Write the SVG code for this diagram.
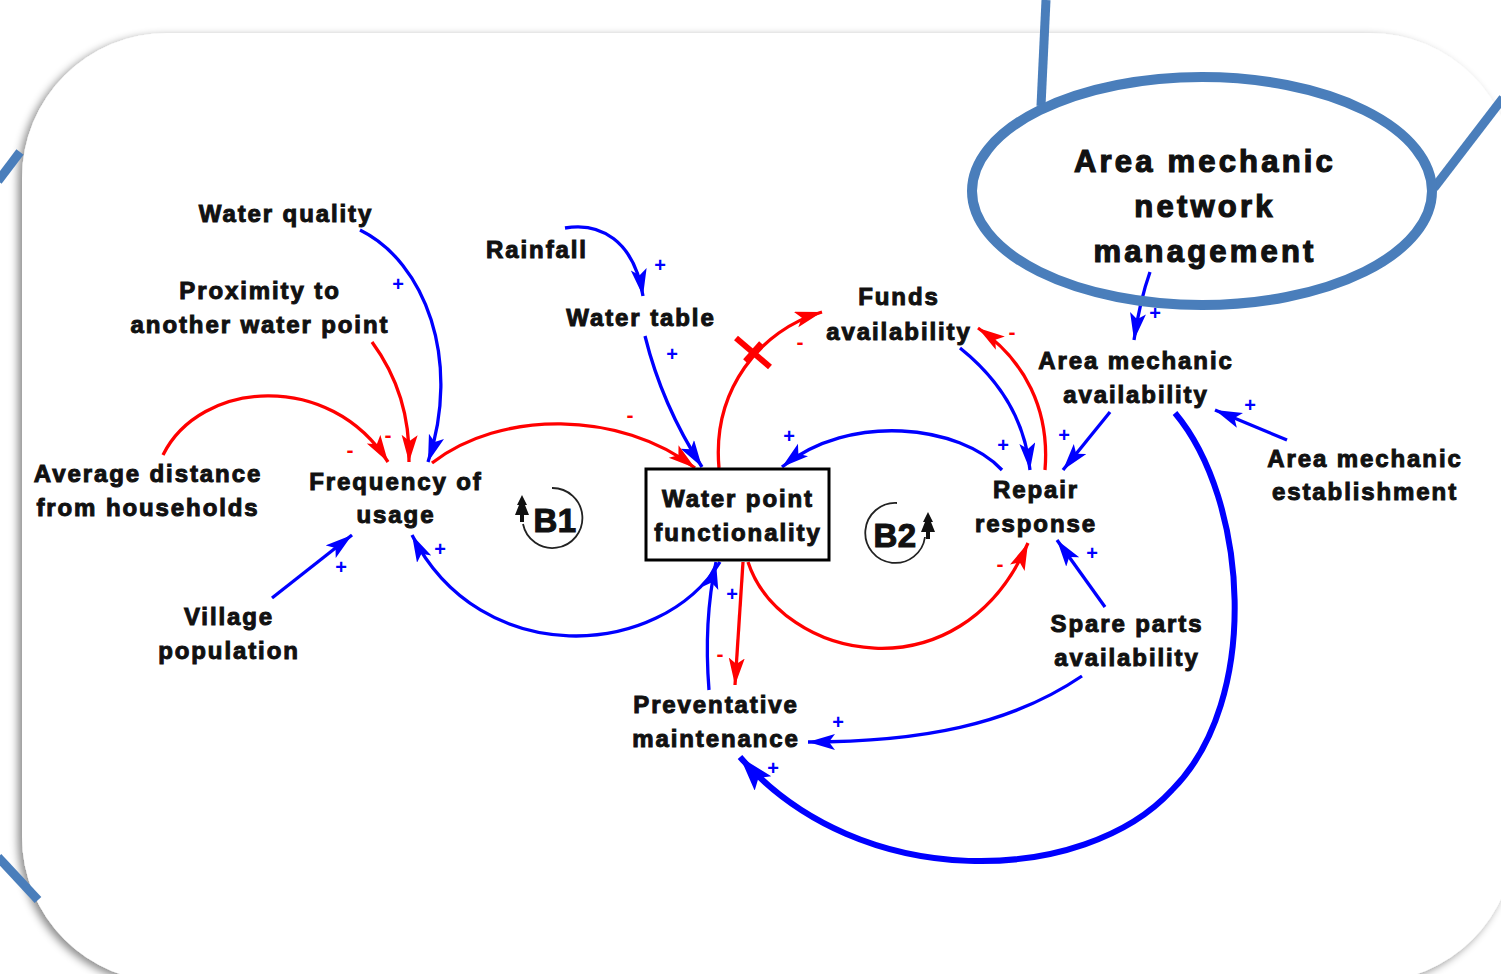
<svg xmlns="http://www.w3.org/2000/svg" width="1501" height="974" viewBox="0 0 1501 974">
<style>
.t{font-family:"Liberation Sans",Arial,sans-serif;font-weight:bold;font-size:24px;letter-spacing:1.9px;fill:#111;stroke:#111;stroke-width:1px;text-anchor:middle}
.big{font-size:31px;letter-spacing:3.2px;stroke-width:1.2px}
.loop{font-size:33px;letter-spacing:0.5px;stroke-width:1.1px}
.p{font-family:"Liberation Sans",Arial,sans-serif;font-weight:bold;font-size:20px;fill:#0000ff;text-anchor:middle}
.m{font-family:"Liberation Sans",Arial,sans-serif;font-weight:bold;font-size:21px;fill:#ff0000;text-anchor:middle}
.b{fill:none;stroke:#0000ff;stroke-width:3.3}
.r{fill:none;stroke:#ff0000;stroke-width:3.3}
.bl{fill:none;stroke:#4a7ebb;stroke-width:9}
</style>
<defs>
<filter id="sh" x="-5%" y="-5%" width="110%" height="110%">
<feDropShadow dx="-4" dy="3" stdDeviation="4" flood-color="#000" flood-opacity="0.45"/>
</filter>
<marker id="ab" markerUnits="userSpaceOnUse" markerWidth="30" markerHeight="20" refX="27" refY="8" orient="auto"><path d="M0,0 L27,8 L0,16 L6,8 z" fill="#0000ff"/></marker>
<marker id="ar" markerUnits="userSpaceOnUse" markerWidth="30" markerHeight="20" refX="27" refY="8" orient="auto"><path d="M0,0 L27,8 L0,16 L6,8 z" fill="#ff0000"/></marker>
<marker id="abt" markerUnits="userSpaceOnUse" markerWidth="38" markerHeight="26" refX="35" refY="11" orient="auto"><path d="M0,0 L35,11 L0,22 L7,11 z" fill="#0000ff"/></marker>
</defs>
<rect width="1501" height="974" fill="#fff"/>
<path d="M167,33 L1370,33 A145,145 0 0 1 1515,178 L1515,837 A145,145 0 0 1 1370,982 L167,982 A145,145 0 0 1 22,837 L22,178 A145,145 0 0 1 167,33 Z" fill="#fff" filter="url(#sh)"/>

<g id="frame-lines">
<line class="bl" x1="1046" y1="0" x2="1041" y2="106"/>
<line class="bl" x1="1434" y1="188" x2="1503" y2="98"/>
<line class="bl" x1="-2" y1="181" x2="20" y2="152"/>
<line class="bl" x1="-2" y1="857" x2="38" y2="900"/>
</g>

<g id="connectors">
<path class="b" d="M360,230 C425,262 462,360 428,462" marker-end="url(#ab)"/>
<path class="b" d="M565,228 C600,222 634,240 643,296" marker-end="url(#ab)"/>
<path class="b" d="M645,336 Q662,405 702,467" marker-end="url(#ab)"/>
<path class="b" d="M1002,470 C960,425 850,412 782,467" marker-end="url(#ab)"/>
<path class="b" d="M960,348 C1000,380 1025,420 1030,470" marker-end="url(#ab)"/>
<path class="b" d="M1110,412 L1063,470" marker-end="url(#ab)"/>
<path class="b" d="M1150,272 Q1140,300 1134,340" marker-end="url(#ab)"/>
<path class="b" d="M1287,440 L1215,410" marker-end="url(#ab)"/>
<path class="b" d="M1105,607 L1057,540" marker-end="url(#ab)"/>
<path class="b" d="M1082,676 C1010,725 920,742 808,742" marker-end="url(#ab)"/>
<path class="b" style="stroke-width:6" d="M1175,413 C1248,500 1262,700 1172,790 C1085,885 860,895 740,757" marker-end="url(#abt)"/>
<path class="b" d="M720,562 C660,660 480,670 412,535" marker-end="url(#ab)"/>
<path class="b" d="M709,690 C705,640 708,600 716,562" marker-end="url(#ab)"/>
<path class="b" d="M272,598 L352,535" marker-end="url(#ab)"/>

<path class="r" d="M163,455 C200,380 330,370 388,462" marker-end="url(#ar)"/>
<path class="r" d="M372,342 C400,380 410,420 409,462" marker-end="url(#ar)"/>
<path class="r" d="M432,463 C500,410 620,410 695,468" marker-end="url(#ar)"/>
<path class="r" d="M719,468 C712,390 760,330 822,312" marker-end="url(#ar)"/>
<path class="r" d="M1045,470 C1050,410 1025,360 978,328" marker-end="url(#ar)"/>
<path class="r" d="M748,562 C780,660 960,700 1028,543" marker-end="url(#ar)"/>
<path class="r" d="M743,562 L735,685" marker-end="url(#ar)"/>
<line x1="736" y1="338" x2="770" y2="367" stroke="#ff0000" stroke-width="6"/>
<line x1="745" y1="361" x2="761" y2="343" stroke="#ff0000" stroke-width="5"/>

<text class="p" x="398" y="291">+</text>
<text class="m" x="350" y="457">-</text>
<text class="m" x="388" y="442">-</text>
<text class="p" x="660" y="272">+</text>
<text class="p" x="672" y="361">+</text>
<text class="m" x="630" y="422">-</text>
<text class="m" x="800" y="349">-</text>
<text class="m" x="1012" y="339">-</text>
<text class="p" x="789" y="443">+</text>
<text class="p" x="1003" y="452">+</text>
<text class="p" x="1064" y="442">+</text>
<text class="p" x="1155" y="320">+</text>
<text class="p" x="1250" y="412">+</text>
<text class="p" x="1092" y="560">+</text>
<text class="m" x="1000" y="571">-</text>
<text class="p" x="440" y="556">+</text>
<text class="p" x="341" y="574">+</text>
<text class="p" x="732" y="601">+</text>
<text class="m" x="720" y="661">-</text>
<text class="p" x="838" y="729">+</text>
<text class="p" x="773" y="775">+</text>
</g>

<g id="node-amnm">
<ellipse cx="1202" cy="191" rx="230" ry="114" fill="none" stroke="#4a7ebb" stroke-width="10"/>
<text class="t big" x="1205" y="172">Area mechanic</text>
<text class="t big" x="1205" y="217">network</text>
<text class="t big" x="1205" y="262">management</text>
</g>
<g id="node-water-quality"><text class="t" x="286" y="222">Water quality</text></g>
<g id="node-proximity"><text class="t" x="260" y="299">Proximity to</text><text class="t" x="260" y="333">another water point</text></g>
<g id="node-rainfall"><text class="t" x="537" y="258">Rainfall</text></g>
<g id="node-water-table"><text class="t" x="641" y="326">Water table</text></g>
<g id="node-funds"><text class="t" x="899" y="305">Funds</text><text class="t" x="899" y="340">availability</text></g>
<g id="node-ama"><text class="t" x="1136" y="369">Area mechanic</text><text class="t" x="1136" y="403">availability</text></g>
<g id="node-ame"><text class="t" x="1365" y="467">Area mechanic</text><text class="t" x="1365" y="500">establishment</text></g>
<g id="node-avg-distance"><text class="t" x="148" y="482">Average distance</text><text class="t" x="148" y="516">from households</text></g>
<g id="node-frequency"><text class="t" x="396" y="490">Frequency of</text><text class="t" x="396" y="523">usage</text></g>
<g id="node-village"><text class="t" x="229" y="625">Village</text><text class="t" x="229" y="659">population</text></g>
<g id="node-water-point">
<rect x="646" y="469" width="183" height="91" fill="#fff" stroke="#000" stroke-width="3"/>
<text class="t" x="738" y="507">Water point</text><text class="t" x="738" y="541">functionality</text>
</g>
<g id="node-repair"><text class="t" x="1036" y="498">Repair</text><text class="t" x="1036" y="532">response</text></g>
<g id="node-spare"><text class="t" x="1127" y="632">Spare parts</text><text class="t" x="1127" y="666">availability</text></g>
<g id="node-pm"><text class="t" x="716" y="713">Preventative</text><text class="t" x="716" y="747">maintenance</text></g>

<g id="loop-b1">
<path d="M552,488 A30,30 0 1 1 523,524" fill="none" stroke="#222" stroke-width="1.8"/>
<path d="M522,495 L527,505 L525,505 L529,515 L524,515 L524,522 L520,522 L520,515 L515,515 L519,505 L517,505 Z" fill="#111"/>
<text class="t loop" x="555" y="532">B1</text>
</g>
<g id="loop-b2">
<path d="M897,503 A30,30 0 1 0 925,537" fill="none" stroke="#222" stroke-width="1.8"/>
<path d="M928,512 L933,522 L931,522 L935,532 L930,532 L930,539 L926,539 L926,532 L921,532 L925,522 L923,522 Z" fill="#111"/>
<text class="t loop" x="895" y="547">B2</text>
</g>
</svg>
